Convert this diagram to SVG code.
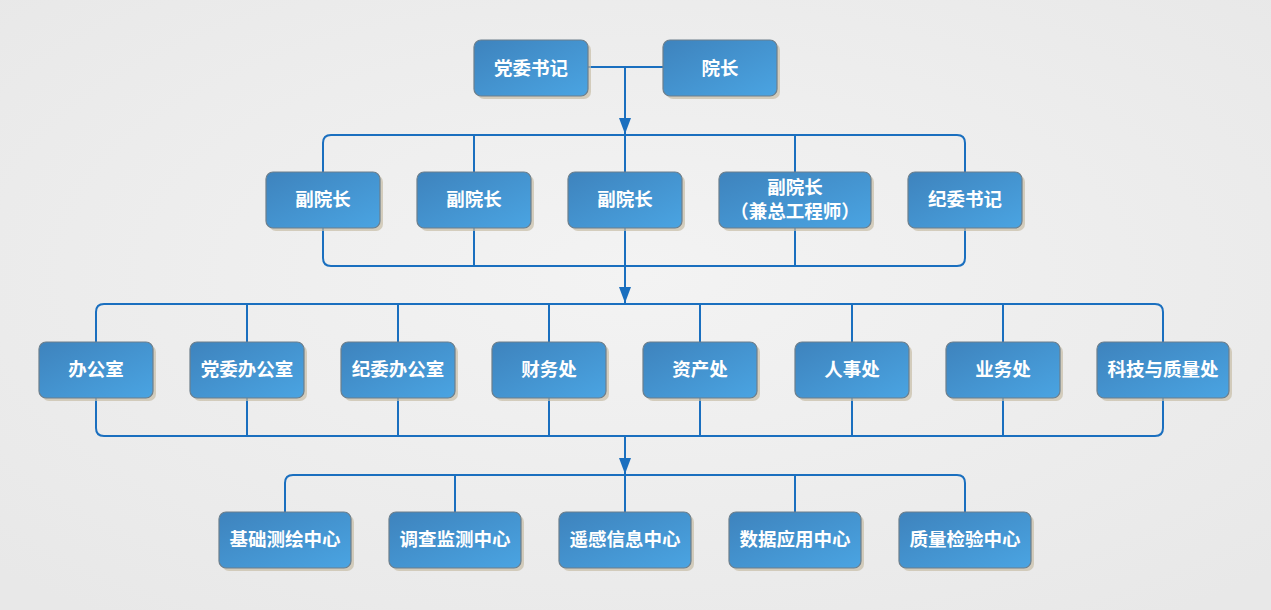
<svg xmlns="http://www.w3.org/2000/svg" width="1271" height="610" viewBox="0 0 1271 610">
<defs>
<radialGradient id="bg" cx="0.5" cy="0.45" r="0.7">
<stop offset="0" stop-color="#f3f3f3"/>
<stop offset="1" stop-color="#e8e8e8"/>
</radialGradient>
<linearGradient id="box" x1="0" y1="0" x2="1" y2="1">
<stop offset="0" stop-color="#3e83bd"/>
<stop offset="1" stop-color="#4aa4e2"/>
</linearGradient>
<marker id="arr" markerWidth="16" markerHeight="12" refX="16" refY="6" orient="auto" markerUnits="userSpaceOnUse" viewBox="0 0 16 12">
<path d="M0,0 L16,6 L0,12 Z" fill="#1a6fbf"/>
</marker>
<style>
.n rect.s{fill:#c8bda6;opacity:0.7}
.n rect.b{fill:url(#box);stroke:#6d7f8c;stroke-width:1.2}
.n text{fill:#ffffff;font-family:"Noto Sans CJK SC","Microsoft YaHei",sans-serif;font-size:18.5px;font-weight:bold;text-anchor:middle;dominant-baseline:central}
.c path,.c line{fill:none;stroke:#1a6fbf;stroke-width:2}
</style>
</defs>
<rect width="1271" height="610" fill="url(#bg)"/>

<g class="c" id="connectors">
<line x1="588" y1="67" x2="663" y2="67"/>
<line x1="625" y1="67" x2="625" y2="134" marker-end="url(#arr)"/>
<path d="M323,172 V143 Q323,135 331,135 H957 Q965,135 965,143 V172"/>
<line x1="474" y1="135" x2="474" y2="172"/>
<line x1="625" y1="135" x2="625" y2="172"/>
<line x1="795" y1="135" x2="795" y2="172"/>
<path d="M323,228 V258 Q323,266 331,266 H957 Q965,266 965,258 V228"/>
<line x1="474" y1="228" x2="474" y2="266"/>
<line x1="625" y1="228" x2="625" y2="266"/>
<line x1="795" y1="228" x2="795" y2="266"/>
<line x1="625" y1="266" x2="625" y2="303" marker-end="url(#arr)"/>
<path d="M96,342 V312 Q96,304 104,304 H1155 Q1163,304 1163,312 V342"/>
<line x1="247" y1="304" x2="247" y2="342"/>
<line x1="398" y1="304" x2="398" y2="342"/>
<line x1="549" y1="304" x2="549" y2="342"/>
<line x1="700" y1="304" x2="700" y2="342"/>
<line x1="852" y1="304" x2="852" y2="342"/>
<line x1="1003" y1="304" x2="1003" y2="342"/>
<path d="M96,398 V428 Q96,436 104,436 H1155 Q1163,436 1163,428 V398"/>
<line x1="247" y1="398" x2="247" y2="436"/>
<line x1="398" y1="398" x2="398" y2="436"/>
<line x1="549" y1="398" x2="549" y2="436"/>
<line x1="700" y1="398" x2="700" y2="436"/>
<line x1="852" y1="398" x2="852" y2="436"/>
<line x1="1003" y1="398" x2="1003" y2="436"/>
<line x1="625" y1="436" x2="625" y2="474" marker-end="url(#arr)"/>
<path d="M285,512 V483 Q285,475 293,475 H957 Q965,475 965,483 V512"/>
<line x1="455" y1="475" x2="455" y2="512"/>
<line x1="625" y1="475" x2="625" y2="512"/>
<line x1="795" y1="475" x2="795" y2="512"/>
</g>

<g class="n" id="n-dwsj"><rect class="s" x="477" y="43" width="114" height="56" rx="7"/><rect class="b" x="474" y="40" width="114" height="56" rx="7"/><text x="531" y="67">党委书记</text></g>
<g class="n" id="n-yz"><rect class="s" x="666" y="43" width="114" height="56" rx="7"/><rect class="b" x="663" y="40" width="114" height="56" rx="7"/><text x="720" y="67">院长</text></g>

<g class="n" id="n-fyz1"><rect class="s" x="269" y="175" width="114" height="56" rx="7"/><rect class="b" x="266" y="172" width="114" height="56" rx="7"/><text x="323" y="198">副院长</text></g>
<g class="n" id="n-fyz2"><rect class="s" x="420" y="175" width="114" height="56" rx="7"/><rect class="b" x="417" y="172" width="114" height="56" rx="7"/><text x="474" y="198">副院长</text></g>
<g class="n" id="n-fyz3"><rect class="s" x="571" y="175" width="114" height="56" rx="7"/><rect class="b" x="568" y="172" width="114" height="56" rx="7"/><text x="625" y="198">副院长</text></g>
<g class="n" id="n-fyz4"><rect class="s" x="722" y="175" width="152" height="56" rx="7"/><rect class="b" x="719" y="172" width="152" height="56" rx="7"/><text x="795" y="186">副院长</text><text x="795" y="210">（兼总工程师）</text></g>
<g class="n" id="n-jwsj"><rect class="s" x="911" y="175" width="114" height="56" rx="7"/><rect class="b" x="908" y="172" width="114" height="56" rx="7"/><text x="965" y="198">纪委书记</text></g>

<g class="n" id="n-bgs"><rect class="s" x="42" y="345" width="114" height="56" rx="7"/><rect class="b" x="39" y="342" width="114" height="56" rx="7"/><text x="96" y="368">办公室</text></g>
<g class="n" id="n-dwbgs"><rect class="s" x="193" y="345" width="114" height="56" rx="7"/><rect class="b" x="190" y="342" width="114" height="56" rx="7"/><text x="247" y="368">党委办公室</text></g>
<g class="n" id="n-jwbgs"><rect class="s" x="344" y="345" width="114" height="56" rx="7"/><rect class="b" x="341" y="342" width="114" height="56" rx="7"/><text x="398" y="368">纪委办公室</text></g>
<g class="n" id="n-cwc"><rect class="s" x="495" y="345" width="114" height="56" rx="7"/><rect class="b" x="492" y="342" width="114" height="56" rx="7"/><text x="549" y="368">财务处</text></g>
<g class="n" id="n-zcc"><rect class="s" x="646" y="345" width="114" height="56" rx="7"/><rect class="b" x="643" y="342" width="114" height="56" rx="7"/><text x="700" y="368">资产处</text></g>
<g class="n" id="n-rsc"><rect class="s" x="798" y="345" width="114" height="56" rx="7"/><rect class="b" x="795" y="342" width="114" height="56" rx="7"/><text x="852" y="368">人事处</text></g>
<g class="n" id="n-ywc"><rect class="s" x="949" y="345" width="114" height="56" rx="7"/><rect class="b" x="946" y="342" width="114" height="56" rx="7"/><text x="1003" y="368">业务处</text></g>
<g class="n" id="n-kjc"><rect class="s" x="1100" y="345" width="132" height="56" rx="7"/><rect class="b" x="1097" y="342" width="132" height="56" rx="7"/><text x="1163" y="368">科技与质量处</text></g>

<g class="n" id="n-jcch"><rect class="s" x="222" y="515" width="132" height="56" rx="7"/><rect class="b" x="219" y="512" width="132" height="56" rx="7"/><text x="285" y="538">基础测绘中心</text></g>
<g class="n" id="n-dcjc"><rect class="s" x="392" y="515" width="132" height="56" rx="7"/><rect class="b" x="389" y="512" width="132" height="56" rx="7"/><text x="455" y="538">调查监测中心</text></g>
<g class="n" id="n-ygxx"><rect class="s" x="562" y="515" width="132" height="56" rx="7"/><rect class="b" x="559" y="512" width="132" height="56" rx="7"/><text x="625" y="538">遥感信息中心</text></g>
<g class="n" id="n-sjyy"><rect class="s" x="732" y="515" width="132" height="56" rx="7"/><rect class="b" x="729" y="512" width="132" height="56" rx="7"/><text x="795" y="538">数据应用中心</text></g>
<g class="n" id="n-zljy"><rect class="s" x="902" y="515" width="132" height="56" rx="7"/><rect class="b" x="899" y="512" width="132" height="56" rx="7"/><text x="965" y="538">质量检验中心</text></g>
</svg>
